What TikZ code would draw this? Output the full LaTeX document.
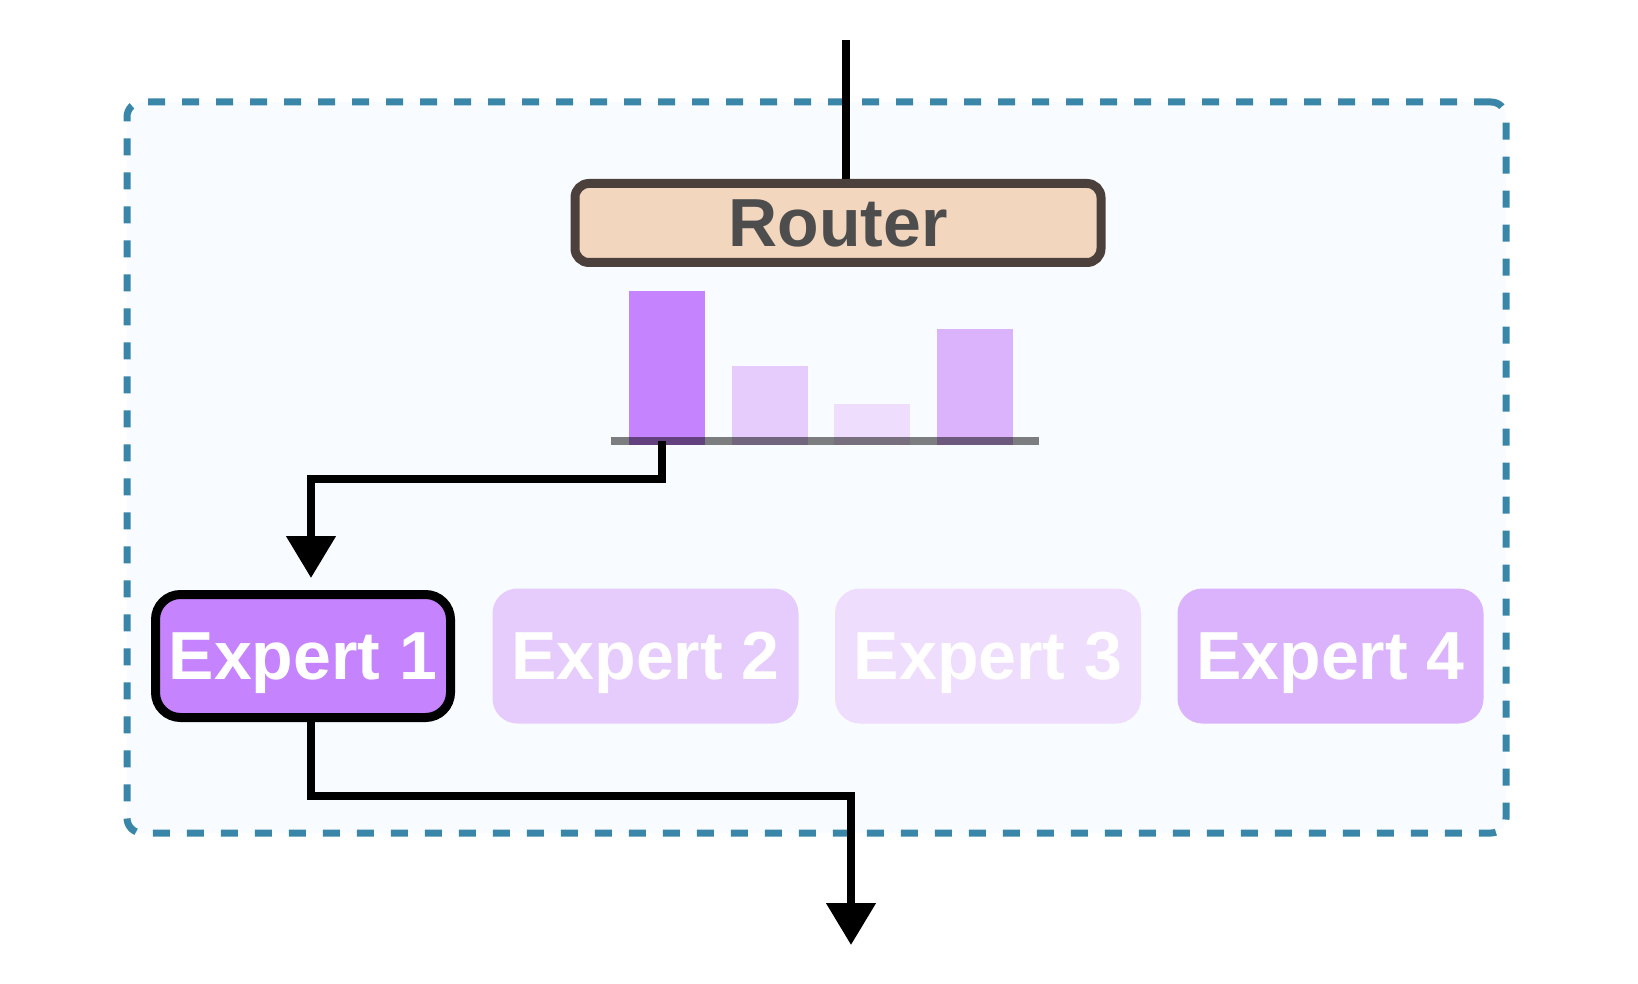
\documentclass[tikz,border=0pt]{standalone}
\usepackage{fontspec}
\setmainfont{Liberation Sans}
\usetikzlibrary{positioning,arrows.meta,shapes}
\definecolor{dashblue}{HTML}{3A86A8}
\definecolor{boxfill}{HTML}{F8FBFF}
\definecolor{routerfill}{HTML}{F3D6BE}
\definecolor{routerline}{HTML}{4B403B}
\definecolor{routertext}{HTML}{4D4D4D}
\definecolor{purpleA}{HTML}{C583FD}
\definecolor{purpleB}{HTML}{E6CCFD}
\definecolor{purpleC}{HTML}{EFDDFE}
\definecolor{purpleD}{HTML}{DBB3FC}
\tikzset{
  flow/.style={line width=8pt, -{Triangle[width=48pt, length=42pt]}},
  expertbox/.style={rounded corners=25pt, minimum width=306pt, minimum height=135pt, inner sep=0pt,
    text depth=0pt, text=white, font=\fontsize{68}{70}\selectfont\bfseries},
  bar/.style={minimum width=76pt, inner sep=0pt, anchor=south}
}
\begin{document}
\begin{tikzpicture}[x=1pt, y=-1pt]
  \useasboundingbox[fill=white] (0,0) rectangle (1638,984);

  % MoE layer
  \node[draw=dashblue, fill=boxfill, line width=7pt, dash pattern=on 17pt off 17pt,
        rounded corners=15pt, minimum width=1379pt, minimum height=731pt] (moe) at (816.5, 467.5) {};

  % Router
  \node[draw=routerline, fill=routerfill, line width=9pt, rounded corners=14pt,
        minimum width=526pt, minimum height=79pt, inner sep=0pt, text depth=0pt,
        text=routertext, font=\fontsize{68}{70}\selectfont\bfseries] (router) at (838, 223) {Router};

  % Router weights
  \foreach \i/\h/\col in {1/154/purpleA, 2/79/purpleB, 3/41/purpleC, 4/116/purpleD}
    \node[bar, fill=\col, minimum height=\h pt] (bar-\i) at (667+\i*102.7-102.7, 445) {};
  \node[fill=black, opacity=0.5, minimum width=428pt, minimum height=7.5pt, inner sep=0pt] (axis) at (825, 441) {};

  % Experts
  \foreach \i/\col in {2/purpleB, 3/purpleC, 4/purpleD}
    \node[expertbox, fill=\col] (expert-\i) at (303+\i*342.5-342.5, 656) {Expert \i};
  \node[expertbox, fill=purpleA, draw=black, line width=9pt, minimum width=295pt, minimum height=123pt] (expert-1) at (303, 656) {Expert 1};

  % Arrows
  \coordinate (in) at (846, 40);
  \coordinate (pick) at (662, 441);
  \coordinate (turn) at (851, 796);
  \coordinate (out) at (851, 945);

  \draw[line width=8pt] (in) -- (in |- router.north);
  \draw[flow] (pick) |- ([xshift=8pt]expert-1.north |- 0,479) -- ([xshift=8pt, yshift=12pt]expert-1.north);
  \draw[flow] ([xshift=8pt]expert-1.south) |- (turn) -- (out);

\end{tikzpicture}
\end{document}
